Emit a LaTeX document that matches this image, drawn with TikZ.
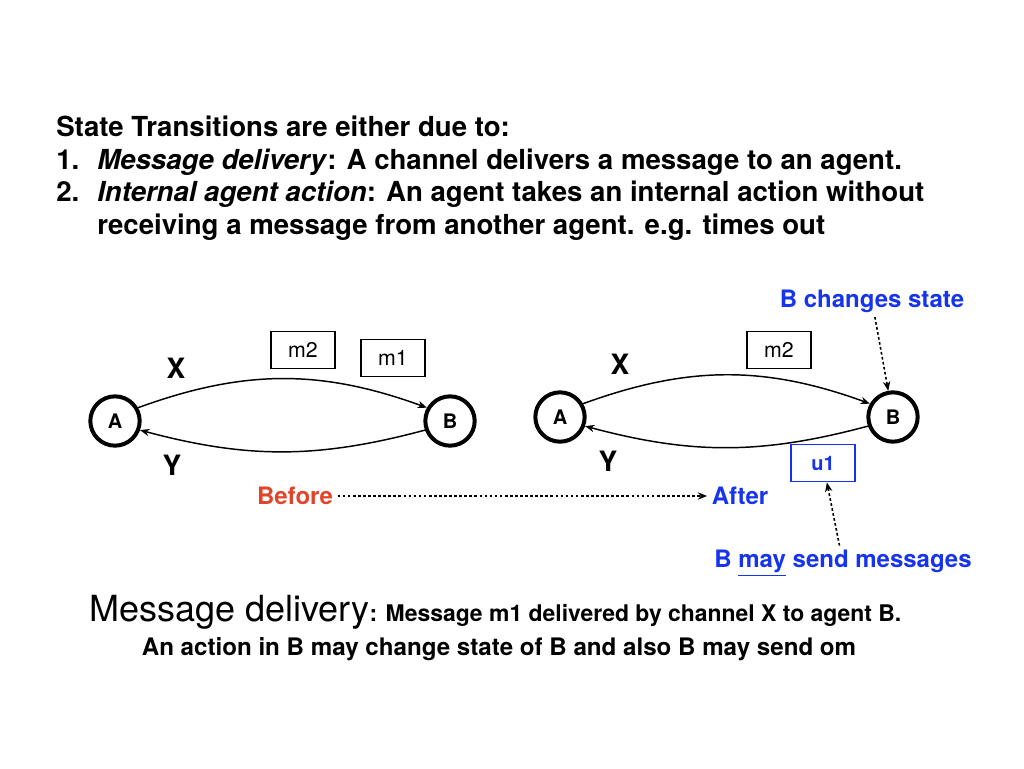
\documentclass[tikz,border=0pt]{standalone}
\usepackage{fontspec}
\setmainfont{TeX Gyre Heros}
\usetikzlibrary{arrows.meta}
\definecolor{kblue}{RGB}{22,52,238}
\definecolor{kred}{RGB}{226,68,42}

\begin{document}
\begin{tikzpicture}[x=0.75pt,y=-0.75pt,
    txt/.style={anchor=base west,inner sep=0pt,font=\fontsize{20.7}{24}\selectfont\bfseries},
    agent/.style={draw,circle,line width=3pt,minimum size=37pt,inner sep=0pt,font=\fontsize{15}{18}\selectfont\bfseries},
    msg/.style={draw,rectangle,line width=1.1pt,minimum width=48pt,minimum height=28pt,font=\fontsize{16}{18}\selectfont},
    chan/.style={line width=1.1pt,-{Stealth[length=7pt,width=5.5pt]}},
    hint/.style={line width=1.2pt,dash pattern=on 2pt off 1.8pt,-{Stealth[length=7pt,width=5.5pt]}},
    lbl/.style={font=\fontsize{21}{24}\selectfont\bfseries},
    note/.style={font=\fontsize{18}{21}\selectfont\bfseries,text=kblue}]
  \useasboundingbox (0,0) rectangle (1024,768);

  \node[txt] (head) at (56,136) {State Transitions are either due to:};
  \node[txt] (item1) at (56,169) {\makebox[30.75pt][l]{1.}\textit{Message delivery}: A channel delivers a message to an agent.};
  \node[txt] (item2) at (56,201) {\makebox[30.75pt][l]{2.}\textit{Internal agent action}: An agent takes an internal action without};
  \node[txt] (item3) at (97,234) {receiving a message from another agent. e.g. times out};

  \node[agent] (A1) at (115,421) {A};
  \node[agent] (B1) at (450,421) {B};
  \draw[chan] (A1.30) to[bend left=20] (B1.150);
  \draw[chan] (B1.200) to[bend left=15] (A1.-20);
  \node[lbl] (X1) at (176,368) {X};
  \node[lbl] (Y1) at (172,465) {Y};
  \node[msg] (m21) at (303,350) {m2};
  \node[msg] (m11) at (393,358) {m1};

  \node[agent] (A2) at (560,417) {A};
  \node[agent] (B2) at (893,417) {B};
  \draw[chan] (A2.30) to[bend left=20] (B2.150);
  \draw[chan] (B2.200) to[bend left=15] (A2.-20);
  \node[lbl] (X2) at (620,364) {X};
  \node[lbl] (Y2) at (608,461) {Y};
  \node[msg] (m22) at (779,350) {m2};
  \node[msg,draw=kblue,text=kblue,font=\fontsize{15}{18}\selectfont\bfseries] (u1) at (823,463) {u1};

  \node[note,text=kred] (before) at (295,496) {Before};
  \node[note] (after) at (740,496) {After};
  \draw[hint] (before) -- (after);

  \node[note] (bstate) at (872,301) {B changes state};
  \draw[hint] (bstate) -- (B2);
  \node[note] (bsend) at (843,563) {B \underline{may} send messages};
  \draw[hint] (bsend) -- (u1);

  \node[txt,font=\fontsize{17.2}{20}\selectfont\bfseries] (sum1) at (89,621) {{\mdseries\fontsize{27}{30}\selectfont Message delivery}: Message m1 delivered by channel X to agent B.};
  \node[txt,anchor=base,font=\fontsize{18.1}{21}\selectfont\bfseries] (sum2) at (499,655) {An action in B may change state of B and also B may send om};
\end{tikzpicture}
\end{document}
